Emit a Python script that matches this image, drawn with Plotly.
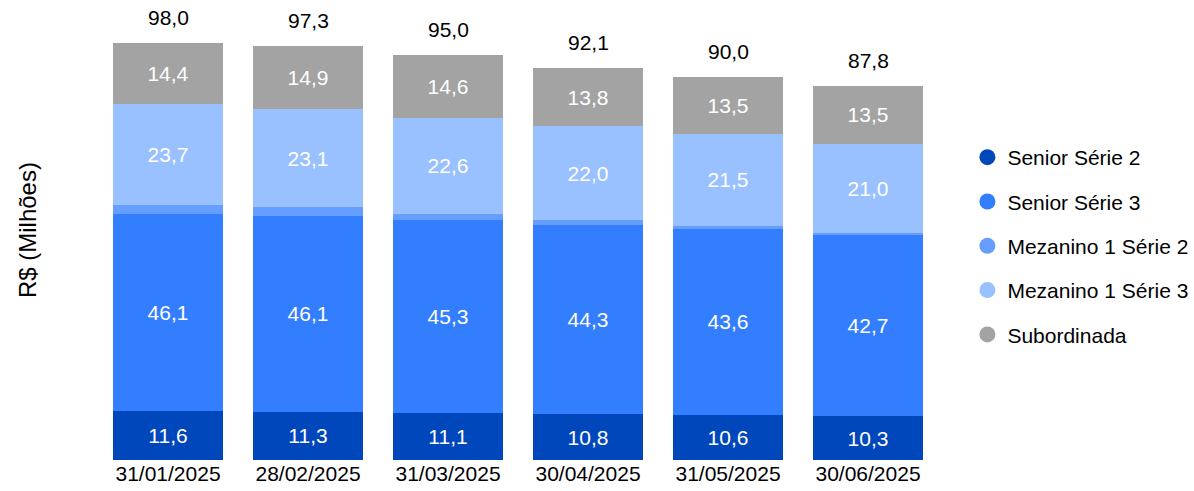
import plotly.graph_objects as go

categories = ["31/01/2025", "28/02/2025", "31/03/2025", "30/04/2025", "31/05/2025", "30/06/2025"]
senior_s2 = [11.6, 11.3, 11.1, 10.8, 10.6, 10.3]
senior_s3 = [46.1, 46.1, 45.3, 44.3, 43.6, 42.7]
mezanino_s2 = [2.2, 1.9, 1.4, 1.2, 0.8, 0.3]
mezanino_s3 = [23.7, 23.1, 22.6, 22.0, 21.5, 21.0]
subordinada = [14.4, 14.9, 14.6, 13.8, 13.5, 13.5]
totals = [98.0, 97.3, 95.0, 92.1, 90.0, 87.8]

series = [
    ("Senior Série 2", senior_s2, "#0047BB", True),
    ("Senior Série 3", senior_s3, "#337DFF", True),
    ("Mezanino 1 Série 2", mezanino_s2, "#669EFF", False),
    ("Mezanino 1 Série 3", mezanino_s3, "#99C0FF", True),
    ("Subordinada", subordinada, "#A3A3A3", True),
]

FONT = "Liberation Sans"
FS = 21

fig = go.Figure()
for name, vals, color, show_text in series:
    fig.add_trace(go.Bar(
        x=categories, y=vals, name=name, marker=dict(color=color, line=dict(width=0)),
        texttemplate="%{y:.1f}" if show_text else None,
        textposition="inside" if show_text else "none",
        insidetextanchor="middle",
        textfont=dict(color="white", size=FS, family=FONT),
        showlegend=False, hoverinfo="skip",
    ))

for i, (name, vals, color, _) in enumerate(series):
    fig.add_trace(go.Scatter(
        x=[None], y=[None], mode="markers", name=name,
        marker=dict(color=color, size=16, symbol="circle"),
        legendgroup="g%d" % i, showlegend=True,
    ))

for c, t in zip(categories, totals):
    fig.add_annotation(x=c, y=t, text=f"{t:.1f}".replace(".", ","), showarrow=False,
                       yanchor="bottom", yshift=12, font=dict(size=FS, color="black", family=FONT))

fig.add_annotation(xref="paper", yref="paper", x=-0.0845, y=0.519, text="R$ (Milhões)",
                   xanchor="center", yanchor="middle",
                   textangle=-90, showarrow=False, font=dict(size=24, color="black", family=FONT))

fig.update_layout(
    barmode="stack", bargap=0.214, separators=",.",
    width=1194, height=491,
    margin=dict(l=98, r=256, t=17, b=31, autoexpand=False),
    plot_bgcolor="white", paper_bgcolor="white",
    font=dict(family=FONT, size=FS, color="black"),
    xaxis=dict(type="category", showgrid=False, zeroline=False, showline=False, ticks="",
               ticklabelstandoff=-1,
               tickfont=dict(size=FS, color="black", family=FONT)),
    yaxis=dict(range=[0, 104], visible=False),
    legend=dict(x=1.035, xanchor="left", y=0.729, yanchor="top", traceorder="grouped",
                tracegroupgap=14, font=dict(size=FS, color="black", family=FONT),
                bgcolor="rgba(0,0,0,0)"),
    uniformtext=dict(minsize=10, mode="show"),
)

fig.write_html("out.html", config={"displayModeBar": False},
               post_script="document.body.style.margin='0px';")
